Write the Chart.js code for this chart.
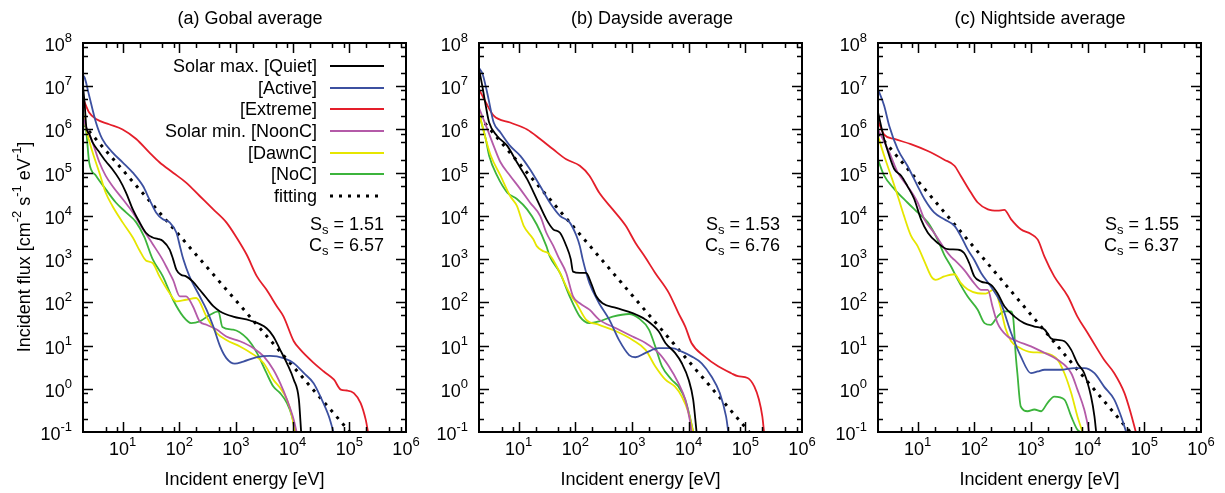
<!DOCTYPE html>
<html>
<head>
<meta charset="utf-8">
<title>Incident flux spectra</title>
<script src="https://cdn.jsdelivr.net/npm/chart.js@4.4.1/dist/chart.umd.min.js"></script>
<style>
  body { margin: 0; background: #fff; }
  #wrap { position: relative; width: 1225px; height: 493px; }
  #wrap canvas { position: absolute; left: 0; top: 0; }
</style>
</head>
<body>
<div id="wrap">
  <canvas id="panelA" width="1225" height="493"></canvas>
  <canvas id="panelB" width="1225" height="493"></canvas>
  <canvas id="panelC" width="1225" height="493"></canvas>
</div>
<script>
// all points as [log10(energy / eV), log10(flux)]
const seriesNames = ['Solar max. [Quiet]', '[Active]', '[Extreme]', 'Solar min. [NoonC]', '[DawnC]', '[NoC]', 'fitting'];
const seriesColors = ['#000000', '#3c50a0', '#e41e2a', '#b45aa8', '#e6e600', '#3cb43c', '#000000'];
const xTickExps = [1, 2, 3, 4, 5, 6];
const yTickExps = [-1, 0, 1, 2, 3, 4, 5, 6, 7, 8];

// (a) Gobal average
const globalQuiet = [[0.301,7.0],[0.33,6.6],[0.36,6.05],[0.41,5.9],[0.47,5.7],[0.59,5.47],[0.70,5.27],[0.82,5.08],[0.94,4.85],[1.06,4.54],[1.18,4.15],[1.30,3.85],[1.41,3.61],[1.53,3.50],[1.62,3.47],[1.71,3.42],[1.83,3.22],[1.89,3.0],[1.95,2.75],[2.03,2.64],[2.12,2.6],[2.24,2.48],[2.36,2.29],[2.48,2.10],[2.60,1.91],[2.72,1.79],[2.95,1.67],[3.25,1.58],[3.54,1.40],[3.66,1.21],[3.78,0.90],[3.90,0.59],[4.02,0.21],[4.11,-0.25],[4.15,-1.0]];
const globalActive = [[0.301,7.25],[0.33,7.2],[0.41,6.78],[0.53,6.16],[0.64,5.78],[0.82,5.47],[1.0,5.24],[1.18,5.0],[1.36,4.69],[1.47,4.39],[1.59,4.08],[1.71,3.92],[1.83,3.85],[1.95,3.61],[2.02,3.25],[2.07,3.0],[2.18,2.6],[2.36,2.14],[2.48,1.83],[2.60,1.44],[2.72,0.98],[2.83,0.71],[2.98,0.58],[3.13,0.63],[3.37,0.73],[3.60,0.76],[3.84,0.71],[4.02,0.59],[4.20,0.36],[4.37,0.13],[4.49,-0.18],[4.64,-0.64],[4.72,-1.0]];
const globalExtreme = [[0.301,6.72],[0.41,6.39],[0.53,6.24],[0.76,6.12],[1.0,6.0],[1.24,5.78],[1.47,5.47],[1.65,5.24],[1.89,5.0],[2.12,4.77],[2.36,4.46],[2.60,4.15],[2.83,3.85],[3.01,3.5],[3.19,3.1],[3.37,2.60],[3.54,2.29],[3.72,1.91],[3.84,1.67],[4.02,1.1],[4.14,0.9],[4.37,0.6],[4.55,0.4],[4.73,0.21],[4.85,-0.02],[4.96,-0.04],[5.08,-0.10],[5.20,-0.33],[5.29,-0.72],[5.33,-1.0]];
const globalNoonC = [[0.301,6.3],[0.35,6.08],[0.47,5.70],[0.59,5.24],[0.70,4.93],[0.82,4.69],[1.0,4.39],[1.18,4.08],[1.36,3.69],[1.53,3.35],[1.70,3.0],[1.80,2.75],[1.89,2.52],[2.01,2.14],[2.12,2.14],[2.24,1.91],[2.36,1.56],[2.48,1.48],[2.66,1.37],[2.83,1.21],[3.07,1.10],[3.31,0.94],[3.49,0.75],[3.66,0.44],[3.78,0.13],[3.90,-0.25],[4.02,-0.72],[4.07,-1.0]];
const globalDawnC = [[0.301,6.4],[0.36,6.0],[0.47,5.47],[0.59,5.0],[0.70,4.54],[0.82,4.23],[1.0,3.85],[1.18,3.5],[1.30,3.2],[1.41,2.97],[1.53,2.91],[1.65,2.60],[1.83,2.21],[1.95,2.02],[2.12,2.06],[2.30,2.10],[2.48,1.67],[2.66,1.29],[2.83,1.13],[3.07,0.98],[3.31,0.79],[3.49,0.59],[3.66,0.21],[3.78,0.02],[3.90,-0.25],[3.99,-0.64],[4.04,-1.0]];
const globalNoC = [[0.301,6.3],[0.36,5.93],[0.41,5.24],[0.53,4.93],[0.70,4.62],[0.88,4.31],[1.06,4.08],[1.24,3.85],[1.38,3.52],[1.53,3.0],[1.71,2.60],[1.89,2.06],[2.07,1.67],[2.21,1.52],[2.36,1.56],[2.54,1.71],[2.69,1.79],[2.76,1.43],[2.95,1.37],[3.19,1.17],[3.37,0.83],[3.54,0.36],[3.66,0.05],[3.78,-0.10],[3.90,-0.33],[3.99,-0.64],[4.05,-1.0]];
const globalFit = [[0.301,6.12],[5.01,-1.0]];

// (b) Dayside average
const daysideQuiet = [[0.301,7.4],[0.36,7.0],[0.42,6.55],[0.48,6.16],[0.62,5.85],[0.80,5.62],[0.97,5.24],[1.15,4.85],[1.32,4.39],[1.49,3.92],[1.61,3.69],[1.73,3.61],[1.84,3.31],[1.92,3.0],[1.96,2.71],[2.08,2.68],[2.19,2.68],[2.28,2.44],[2.37,2.14],[2.48,1.98],[2.72,1.87],[3.01,1.75],[3.24,1.60],[3.47,1.33],[3.59,1.06],[3.76,0.83],[3.88,0.59],[4.0,0.21],[4.08,-0.25],[4.14,-1.0]];
const daysideActive = [[0.301,7.42],[0.36,7.3],[0.42,7.0],[0.47,6.7],[0.56,6.16],[0.68,5.93],[0.85,5.62],[1.03,5.39],[1.20,5.08],[1.38,4.69],[1.55,4.31],[1.73,4.0],[1.90,3.85],[2.02,3.54],[2.08,3.3],[2.13,3.0],[2.25,2.44],[2.42,1.98],[2.60,1.60],[2.77,1.13],[2.95,0.78],[3.06,0.73],[3.24,0.83],[3.47,0.94],[3.70,0.94],[3.88,0.86],[4.05,0.75],[4.23,0.59],[4.40,0.29],[4.55,-0.10],[4.66,-0.64],[4.70,-1.0]];
const daysideExtreme = [[0.301,6.93],[0.42,6.63],[0.56,6.32],[0.85,6.16],[1.15,6.0],[1.38,5.78],[1.61,5.54],[1.84,5.31],[2.08,5.16],[2.25,4.93],[2.42,4.54],[2.66,4.15],[2.89,3.77],[3.06,3.38],[3.24,3.03],[3.41,2.68],[3.65,2.22],[3.82,1.75],[3.94,1.44],[4.05,1.06],[4.28,0.75],[4.52,0.52],[4.75,0.36],[4.87,0.29],[5.04,0.25],[5.16,0.05],[5.24,-0.25],[5.30,-0.64],[5.33,-1.0]];
const daysideNoonC = [[0.301,6.5],[0.45,6.0],[0.56,5.62],[0.68,5.24],[0.85,4.93],[1.03,4.62],[1.20,4.31],[1.38,4.0],[1.49,3.61],[1.61,3.31],[1.70,3.05],[1.84,2.68],[1.96,2.14],[2.08,1.98],[2.25,1.83],[2.42,1.60],[2.72,1.40],[3.01,1.21],[3.24,1.06],[3.47,0.83],[3.65,0.52],[3.82,0.13],[3.94,-0.25],[4.02,-0.72],[4.05,-1.0]];
const daysideDawnC = [[0.301,6.4],[0.42,5.78],[0.51,5.39],[0.68,4.93],[0.85,4.46],[0.97,4.23],[1.09,3.77],[1.26,3.46],[1.32,3.3],[1.44,3.18],[1.52,3.14],[1.61,2.98],[1.73,2.68],[1.90,2.21],[2.02,1.98],[2.19,1.60],[2.42,1.48],[2.72,1.33],[3.01,1.13],[3.24,0.90],[3.41,0.52],[3.59,0.21],[3.76,0.05],[3.88,-0.18],[4.0,-0.56],[4.08,-1.0]];
const daysideNoC = [[0.301,6.35],[0.42,5.78],[0.48,5.39],[0.62,4.93],[0.80,4.54],[0.97,4.39],[1.15,4.15],[1.32,3.8],[1.49,3.3],[1.55,3.06],[1.73,2.68],[1.90,2.14],[2.08,1.67],[2.25,1.52],[2.42,1.56],[2.66,1.67],[2.95,1.73],[3.12,1.63],[3.30,1.37],[3.41,0.98],[3.53,0.52],[3.70,0.21],[3.82,0.05],[3.94,-0.25],[4.02,-0.64],[4.08,-1.0]];
const daysideFit = [[0.301,6.30],[5.07,-1.0]];

// (c) Nightside average
const nightsideQuiet = [[0.301,6.4],[0.41,5.78],[0.50,5.39],[0.59,5.08],[0.71,4.93],[0.82,4.69],[0.94,4.39],[1.06,3.92],[1.18,3.61],[1.35,3.38],[1.53,3.23],[1.71,3.22],[1.82,3.14],[1.91,2.91],[2.0,2.60],[2.12,2.48],[2.29,2.41],[2.41,2.21],[2.53,1.91],[2.71,1.67],[2.88,1.52],[3.06,1.44],[3.24,1.37],[3.35,1.17],[3.47,1.13],[3.59,1.10],[3.71,0.90],[3.82,0.59],[3.94,0.36],[4.06,-0.18],[4.12,-0.64],[4.15,-1.0]];
const nightsideActive = [[0.301,6.93],[0.41,6.55],[0.50,6.08],[0.65,5.54],[0.82,5.16],[1.0,4.69],[1.12,4.39],[1.29,4.08],[1.47,3.92],[1.65,3.77],[1.76,3.54],[1.88,3.23],[2.0,2.98],[2.12,2.68],[2.29,2.37],[2.47,1.98],[2.65,1.29],[2.82,0.75],[3.0,0.36],[3.12,0.40],[3.24,0.44],[3.53,0.44],[3.76,0.48],[3.94,0.48],[4.12,0.36],[4.29,0.05],[4.47,-0.25],[4.59,-0.64],[4.68,-1.0]];
const nightsideExtreme = [[0.301,6.2],[0.41,5.88],[0.59,5.78],[0.88,5.66],[1.18,5.5],[1.47,5.3],[1.65,5.16],[1.76,4.93],[1.94,4.54],[2.06,4.31],[2.24,4.15],[2.41,4.12],[2.53,4.14],[2.65,3.92],[2.82,3.69],[3.0,3.58],[3.12,3.45],[3.24,3.05],[3.41,2.60],[3.65,2.14],[3.82,1.67],[4.0,1.29],[4.18,0.90],[4.29,0.67],[4.47,0.36],[4.65,-0.10],[4.76,-0.56],[4.85,-1.0]];
const nightsideNoonC = [[0.301,6.0],[0.50,5.47],[0.65,5.0],[0.82,4.69],[1.0,4.31],[1.12,3.92],[1.29,3.61],[1.47,3.25],[1.59,3.05],[1.65,2.98],[1.82,2.75],[2.0,2.44],[2.12,2.29],[2.24,2.29],[2.32,1.91],[2.41,1.52],[2.59,1.21],[2.76,1.10],[3.0,0.98],[3.24,0.83],[3.47,0.67],[3.71,0.36],[3.82,-0.02],[3.94,-0.48],[4.03,-1.0]];
const nightsideDawnC = [[0.301,5.85],[0.41,5.39],[0.53,4.93],[0.65,4.46],[0.76,4.0],[0.88,3.55],[1.0,3.3],[1.12,2.95],[1.24,2.6],[1.32,2.52],[1.47,2.6],[1.65,2.65],[1.76,2.45],[1.88,2.3],[2.06,2.21],[2.2,2.2],[2.35,2.3],[2.45,1.95],[2.55,1.4],[2.65,1.1],[2.8,0.95],[3.0,0.85],[3.24,0.83],[3.47,0.67],[3.59,0.36],[3.71,-0.10],[3.82,-0.64],[3.91,-1.0]];
const nightsideNoC = [[0.301,5.3],[0.41,4.93],[0.59,4.62],[0.82,4.31],[1.0,4.08],[1.18,3.85],[1.35,3.46],[1.47,3.1],[1.59,2.83],[1.71,2.52],[1.88,2.14],[2.06,1.83],[2.18,1.52],[2.29,1.48],[2.41,1.67],[2.53,1.79],[2.65,1.79],[2.69,1.6],[2.73,0.8],[2.76,0.36],[2.82,-0.41],[2.94,-0.52],[3.06,-0.48],[3.18,-0.52],[3.29,-0.33],[3.41,-0.18],[3.59,-0.25],[3.71,-0.64],[3.82,-0.95],[3.88,-1.0]];
const nightsideFit = [[0.301,5.90],[4.75,-1.0]];

const FONT = '"Liberation Sans", Arial, Helvetica, sans-serif';

// draws text runs like "cm" + sup "-2", aligned as one piece
function drawRuns(ctx, runs, x, y, align) {
  const widths = runs.map(r => {
    ctx.font = (r.sup || r.sub ? '13px ' : '18px ') + FONT;
    return ctx.measureText(r.t).width;
  });
  const total = widths.reduce((s, w) => s + w, 0);
  let cx = align === 'right' ? x - total : align === 'center' ? x - total / 2 : x;
  ctx.textAlign = 'left';
  ctx.textBaseline = 'alphabetic';
  runs.forEach((r, i) => {
    ctx.font = (r.sup || r.sub ? '13px ' : '18px ') + FONT;
    const dy = r.sup ? -9 : r.sub ? 4 : 0;
    ctx.fillText(r.t, cx, y + dy);
    cx += widths[i];
  });
}

function pow10(e) { return [{ t: '10' }, { t: String(e), sup: true }]; }

const framePlugin = {
  id: 'frame',
  afterDatasetsDraw(chart, args, opts) {
    const { ctx, chartArea: a } = chart;
    const xs = chart.scales.x, ys = chart.scales.y;
    ctx.save();
    ctx.strokeStyle = '#000';
    ctx.fillStyle = '#000';
    ctx.lineWidth = 1.5;
    ctx.beginPath();
    for (let e = -1; e <= 8; e++) {
      for (const m of [1, 2, 5, 8]) {
        const v = m * Math.pow(10, e);
        const len = m === 1 ? 10 : 5;
        if (v > xs.min && v < xs.max) {
          const px = Math.round(xs.getPixelForValue(v)) + 0.5;
          ctx.moveTo(px, a.bottom); ctx.lineTo(px, a.bottom - len);
          ctx.moveTo(px, a.top); ctx.lineTo(px, a.top + len);
        }
        if (v > ys.min && v < ys.max) {
          const py = Math.round(ys.getPixelForValue(v)) + 0.5;
          ctx.moveTo(a.left, py); ctx.lineTo(a.left + len, py);
          ctx.moveTo(a.right, py); ctx.lineTo(a.right - len, py);
        }
      }
    }
    ctx.stroke();
    ctx.lineWidth = 2;
    ctx.strokeRect(a.left, a.top, a.right - a.left, a.bottom - a.top);

    xTickExps.forEach(e => drawRuns(ctx, pow10(e), xs.getPixelForValue(Math.pow(10, e)), 455, 'center'));
    yTickExps.forEach(e => drawRuns(ctx, pow10(e), a.left - 11, ys.getPixelForValue(Math.pow(10, e)) + 8, 'right'));

    drawRuns(ctx, [{ t: opts.title }], opts.titleX, 24, 'center');
    drawRuns(ctx, [{ t: 'Incident energy [eV]' }], (a.left + a.right) / 2, 485, 'center');

    drawRuns(ctx, [{ t: 'S' }, { t: 's', sub: true }, { t: ' = ' + opts.slope }], a.right - 22, 230, 'right');
    drawRuns(ctx, [{ t: 'C' }, { t: 's', sub: true }, { t: ' = ' + opts.coef }], a.right - 22, 251, 'right');

    if (opts.yTitle) {
      ctx.save();
      ctx.translate(30, 247);
      ctx.rotate(-Math.PI / 2);
      drawRuns(ctx, [{ t: 'Incident flux [cm' }, { t: '-2', sup: true }, { t: ' s' }, { t: '-1', sup: true },
        { t: ' eV' }, { t: '-1', sup: true }, { t: ']' }], 0, 0, 'center');
      ctx.restore();
    }

    if (opts.legend) {
      const rows = [66, 88, 109, 131, 153, 174, 196];
      chart.data.datasets.forEach((ds, i) => {
        drawRuns(ctx, [{ t: ds.label }], 317, rows[i] + 6, 'right');
        ctx.beginPath();
        ctx.strokeStyle = ds.borderColor;
        ctx.lineWidth = ds.borderWidth;
        ctx.setLineDash(ds.borderDash);
        ctx.moveTo(330, rows[i]);
        ctx.lineTo(384, rows[i]);
        ctx.stroke();
        ctx.setLineDash([]);
      });
    }
    ctx.restore();
  }
};

function toPoints(pairs) {
  return pairs.map(p => ({ x: Math.pow(10, p[0]), y: Math.pow(10, p[1]) }));
}

function makePanel(id, series, left, right, frameOpts) {
  return new Chart(document.getElementById(id), {
    type: 'line',
    data: {
      datasets: series.map((s, i) => ({
        label: seriesNames[i],
        data: toPoints(s),
        borderColor: seriesColors[i],
        borderWidth: i === 6 ? 3 : 1.8,
        borderDash: i === 6 ? [3, 6] : [],
        pointRadius: 0,
        cubicInterpolationMode: 'monotone',
        fill: false
      }))
    },
    options: {
      responsive: false,
      animation: false,
      events: [],
      layout: { padding: { left: left, top: 43, right: 1225 - right, bottom: 61 } },
      scales: {
        x: { type: 'logarithmic', min: 2, max: 1e6, display: false },
        y: { type: 'logarithmic', min: 0.1, max: 1e8, display: false }
      },
      plugins: { legend: { display: false }, tooltip: { enabled: false }, frame: frameOpts }
    },
    plugins: [framePlugin]
  });
}

makePanel('panelA',
  [globalQuiet, globalActive, globalExtreme, globalNoonC, globalDawnC, globalNoC, globalFit],
  83, 406, { title: '(a) Gobal average', titleX: 250, slope: '1.51', coef: '6.57', yTitle: true, legend: true });
makePanel('panelB',
  [daysideQuiet, daysideActive, daysideExtreme, daysideNoonC, daysideDawnC, daysideNoC, daysideFit],
  479, 802, { title: '(b) Dayside average', titleX: 652, slope: '1.53', coef: '6.76', yTitle: false, legend: false });
makePanel('panelC',
  [nightsideQuiet, nightsideActive, nightsideExtreme, nightsideNoonC, nightsideDawnC, nightsideNoC, nightsideFit],
  878, 1201, { title: '(c) Nightside average', titleX: 1040, slope: '1.55', coef: '6.37', yTitle: false, legend: false });
</script>
</body>
</html>
